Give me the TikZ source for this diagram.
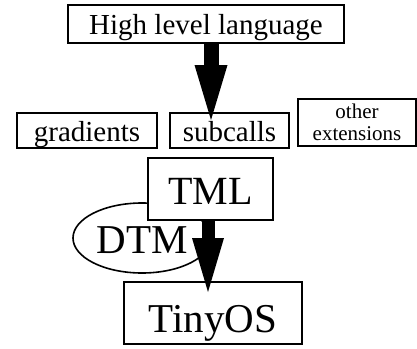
\documentclass[tikz,border=0pt]{standalone}
\usepackage{fontspec}
\setmainfont{Liberation Serif}
\usetikzlibrary{arrows.meta,shapes.geometric}

\begin{document}
\begin{tikzpicture}[x=1pt,y=-1pt,
  box/.style={draw, line width=2.2pt, fill=white, rectangle, inner sep=0pt},
  bigarrow/.style={line width=#1},
]
\useasboundingbox (0,0) rectangle (417,348);

% DTM ellipse sits behind the TML box and the lower arrow
\node[draw, line width=1.6pt, ellipse, inner sep=0pt,
      minimum width=138pt, minimum height=70pt,
      text height=32pt, text depth=2pt, font=\fontsize{41}{42}\selectfont]
  (dtm) at (142,238) {\makebox[0pt]{DTM}};

% top-level language box
\node[box, minimum width=275.5pt, minimum height=38.5pt,
      text height=23.5pt, text depth=2pt, font=\fontsize{29}{30}\selectfont]
  (hll) at (206,24) {High level language};

% extension boxes
\node[box, minimum width=140pt, minimum height=35pt,
      text height=23pt, text depth=2pt, font=\fontsize{29}{30}\selectfont]
  (grad) at (87,130.5) {gradients};
\node[box, minimum width=119pt, minimum height=35pt,
      text height=23pt, text depth=2pt, font=\fontsize{29}{30}\selectfont]
  (sub) at (229.5,130.5) {subcalls};
\node[box, minimum width=118pt, minimum height=47pt, align=center,
      font=\fontsize{21}{22}\selectfont]
  (ext) at (357,122.5) {other\\extensions};

% TML and TinyOS
\node[box, minimum width=125pt, minimum height=62pt,
      text height=33.4pt, text depth=2pt, font=\fontsize{40}{41}\selectfont]
  (tml) at (210.5,189) {TML};
\node[box, minimum width=178pt, minimum height=62pt,
      text height=40.6pt, text depth=2pt, font=\fontsize{41}{42}\selectfont]
  (tos) at (213,313) {TinyOS};

% arrow tips end just inside the boxes below
\coordinate (a1tip) at (211,120);
\coordinate (a2tip) at (208,292);

\draw[bigarrow=15pt, -{Triangle[length=55pt,width=33pt,line width=0pt]}]
  (hll.south -| a1tip) -- (a1tip);
\draw[bigarrow=13pt, -{Triangle[length=54pt,width=32pt,line width=0pt]}]
  (tml.south -| a2tip) -- (a2tip);
\end{tikzpicture}
\end{document}
